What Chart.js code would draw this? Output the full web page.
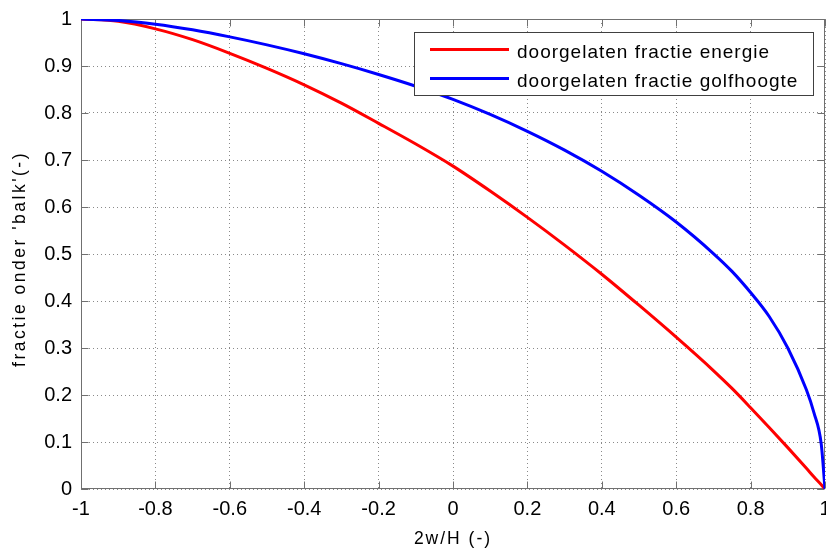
<!DOCTYPE html>
<html>
<head>
<meta charset="utf-8">
<script src="https://cdn.jsdelivr.net/npm/chart.js@4"></script>
<style>
  html, body { margin: 0; padding: 0; background: #fff; }
</style>
</head>
<body>
<canvas id="myChart" width="826" height="552"></canvas>
<script>
(() => {
  'use strict'

  // values
  const xValues = [-1, -0.9, -0.8, -0.7, -0.6, -0.5, -0.4, -0.3, -0.2, -0.1, 0,
    0.1, 0.2, 0.3, 0.4, 0.5, 0.6, 0.7, 0.75, 0.8, 0.85, 0.9, 0.95, 0.97, 0.99, 1]
  const energie = [1, 0.995, 0.979, 0.956, 0.927, 0.895, 0.860, 0.821, 0.778, 0.734, 0.687,
    0.634, 0.578, 0.519, 0.457, 0.391, 0.323, 0.252, 0.214, 0.173, 0.131, 0.088, 0.044, 0.026, 0.009, 0]
  const golfhoogte = [1, 0.997, 0.989, 0.977, 0.962, 0.945, 0.926, 0.905, 0.882, 0.857, 0.829,
    0.797, 0.761, 0.721, 0.676, 0.625, 0.568, 0.501, 0.463, 0.418, 0.367, 0.300, 0.211, 0.163, 0.095, 0]

  const seriesLabels = ['doorgelaten fractie energie', 'doorgelaten fractie golfhoogte']
  const xTickValues = [-1, -0.8, -0.6, -0.4, -0.2, 0, 0.2, 0.4, 0.6, 0.8, 1]
  const xTickLabels = ['-1', '-0.8', '-0.6', '-0.4', '-0.2', '0', '0.2', '0.4', '0.6', '0.8', '1']
  const yTickValues = [0, 0.1, 0.2, 0.3, 0.4, 0.5, 0.6, 0.7, 0.8, 0.9, 1]
  const yTickLabels = ['0', '0.1', '0.2', '0.3', '0.4', '0.5', '0.6', '0.7', '0.8', '0.9', '1']
  const xTitle = '2w/H (-)'
  const yTitle = "fractie onder 'balk'(-)"

  const FONT = '"Liberation Sans", Arial, sans-serif'

  const toPoints = (ys) => ys.map((v, i) => ({ x: xValues[i], y: v }))

  // matlab style box with inward ticks on all four sides
  const axesBox = {
    id: 'axesBox',
    beforeDatasetsDraw(chart) {
      const { ctx, chartArea: a, scales: { x, y } } = chart
      const L = Math.round(a.left) + 0.5
      const R = Math.round(a.right) - 0.5
      const T = Math.round(a.top) + 0.5
      const B = Math.round(a.bottom) - 0.5
      ctx.save()
      ctx.strokeStyle = '#707070'
      ctx.lineWidth = 1
      ctx.beginPath()
      x.ticks.forEach(t => {
        const p = Math.round(x.getPixelForValue(t.value)) + 0.5
        ctx.moveTo(p, B); ctx.lineTo(p, B - 7)
        ctx.moveTo(p, T); ctx.lineTo(p, T + 7)
      })
      y.ticks.forEach(t => {
        const p = Math.round(y.getPixelForValue(t.value)) + 0.5
        ctx.moveTo(L, p); ctx.lineTo(L + 7, p)
        ctx.moveTo(R, p); ctx.lineTo(R - 7, p)
      })
      ctx.stroke()
      ctx.strokeRect(L, T, R - L, B - T)
      ctx.restore()
    }
  }

  const titlesAndLegend = {
    id: 'titlesAndLegend',
    afterDraw(chart) {
      const { ctx, chartArea: a } = chart
      ctx.save()
      ctx.fillStyle = '#000'
      ctx.textAlign = 'center'
      ctx.textBaseline = 'middle'
      ctx.font = '17.5px ' + FONT
      ctx.letterSpacing = '2px'
      ctx.fillText(xTitle, (a.left + a.right) / 2, 539)
      ctx.save()
      ctx.translate(20, (a.top + a.bottom) / 2 + 5)
      ctx.rotate(-Math.PI / 2)
      ctx.letterSpacing = '2.5px'
      ctx.fillText(yTitle, 0, 0)
      ctx.restore()

      // legend box
      ctx.fillStyle = '#fff'
      ctx.fillRect(414.5, 32.5, 399, 63)
      ctx.strokeStyle = '#404040'
      ctx.lineWidth = 1
      ctx.strokeRect(414.5, 32.5, 399, 63)
      ctx.font = '19px ' + FONT
      ctx.letterSpacing = '1px'
      ctx.textAlign = 'left'
      ctx.textBaseline = 'alphabetic'
      chart.data.datasets.forEach((ds, i) => {
        const yy = 49.5 + i * 29
        ctx.strokeStyle = ds.borderColor
        ctx.lineWidth = 3
        ctx.beginPath()
        ctx.moveTo(430, yy)
        ctx.lineTo(509, yy)
        ctx.stroke()
        ctx.fillStyle = '#000'
        ctx.fillText(ds.label, 517, yy + 8)
      })
      ctx.restore()
    }
  }

  const ctx = document.getElementById('myChart')
  const myChart = new Chart(ctx, {
    type: 'line',
    data: {
      datasets: [{
        label: seriesLabels[0],
        data: toPoints(energie),
        borderColor: '#ff0000',
        order: 1
      }, {
        label: seriesLabels[1],
        data: toPoints(golfhoogte),
        borderColor: '#0000ff',
        order: 0
      }]
    },
    options: {
      responsive: false,
      animation: false,
      layout: { padding: { top: 19, right: 1, left: 0, bottom: 0 } },
      elements: {
        point: { radius: 0 },
        line: { borderWidth: 3, cubicInterpolationMode: 'monotone', fill: false }
      },
      scales: {
        x: {
          type: 'linear',
          min: -1,
          max: 1,
          afterBuildTicks: (s) => { s.ticks = xTickValues.map(v => ({ value: v })) },
          afterFit: (s) => { s.height = 63; s.paddingLeft = 0; s.paddingRight = 0 },
          grid: { color: '#8a8a8a', lineWidth: 1, drawTicks: false },
          border: { display: false, dash: [1, 3] },
          ticks: {
            autoSkip: false,
            maxRotation: 0,
            padding: 8,
            color: '#000',
            font: { family: FONT, size: 20 },
            callback: (v, i) => xTickLabels[i]
          }
        },
        y: {
          min: 0,
          max: 1,
          afterBuildTicks: (s) => { s.ticks = yTickValues.map(v => ({ value: v })) },
          afterFit: (s) => { s.width = 81; s.paddingTop = 0; s.paddingBottom = 0 },
          grid: { color: '#8a8a8a', lineWidth: 1, drawTicks: false },
          border: { display: false, dash: [1, 3] },
          ticks: {
            padding: 9,
            color: '#000',
            font: { family: FONT, size: 20 },
            callback: (v, i) => yTickLabels[i]
          }
        }
      },
      plugins: {
        legend: { display: false },
        tooltip: { enabled: false }
      }
    },
    plugins: [axesBox, titlesAndLegend]
  })
})()
</script>
</body>
</html>
